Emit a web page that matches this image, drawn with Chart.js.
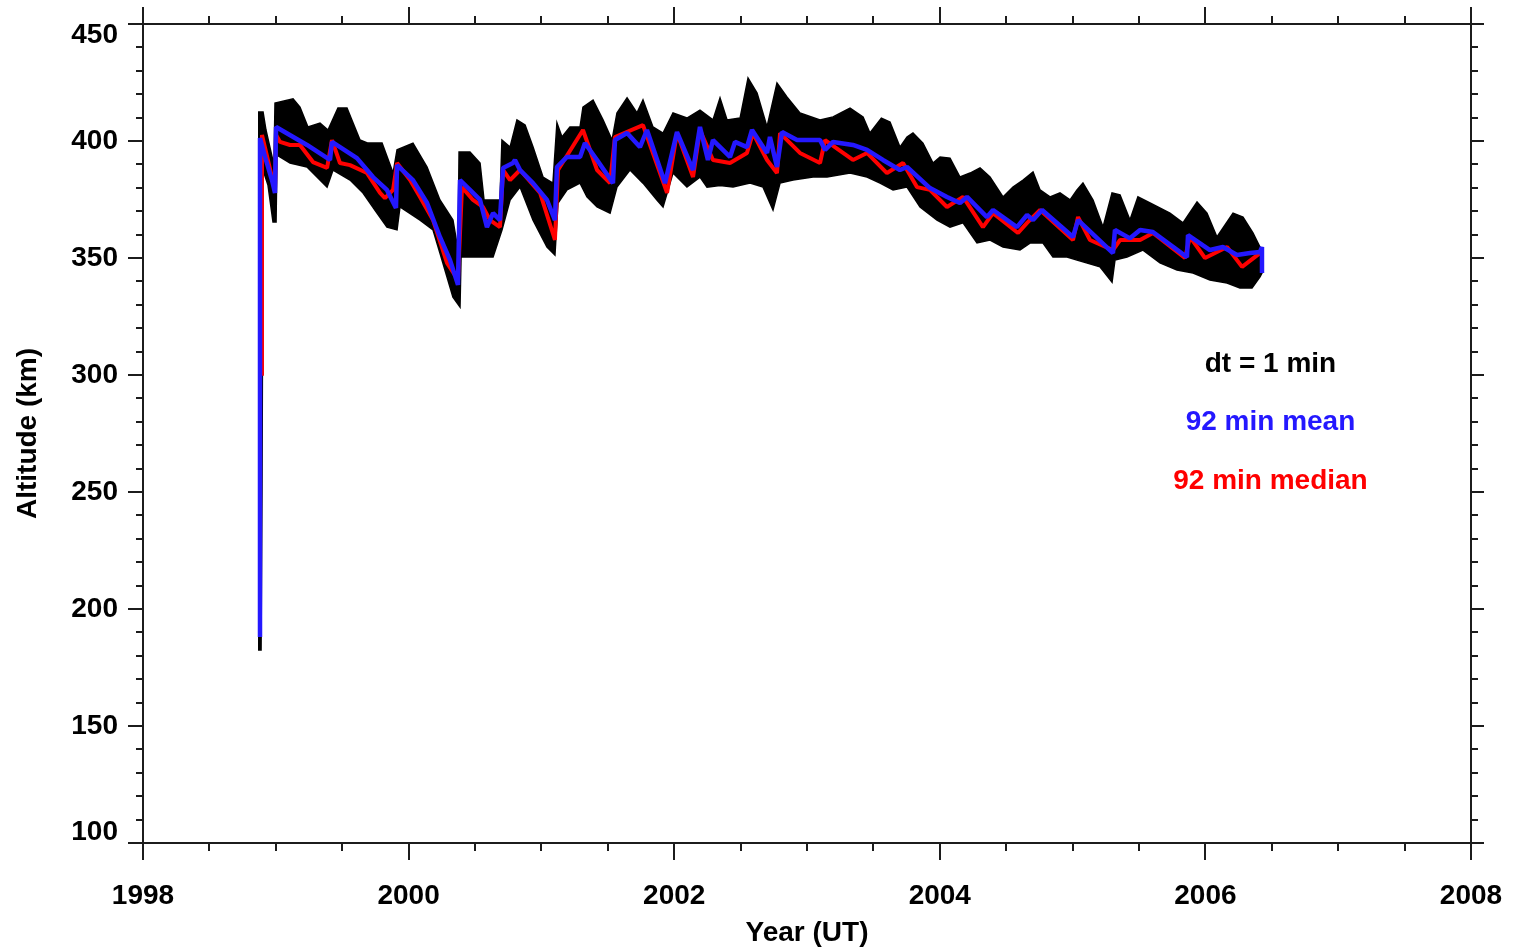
<!DOCTYPE html>
<html>
<head>
<meta charset="utf-8">
<title>ISS altitude</title>
<script src="https://cdn.jsdelivr.net/npm/chart.js@4.4.1/dist/chart.umd.min.js"></script>
<style>
  html, body { margin: 0; padding: 0; background: #fff; }
  canvas { display: block; }
</style>
</head>
<body>
<canvas id="altChart" width="1513" height="951"></canvas>
<script>
// --- Data ---
// 92 min mean
const meanT = [1998.881,1998.881,1998.919,1998.971,1998.994,1999.002,1999.235,1999.408,1999.423,1999.611,1999.732,1999.837,1999.905,1999.913,2000.033,2000.139,2000.236,2000.312,2000.372,2000.387,2000.462,2000.538,2000.590,2000.636,2000.688,2000.711,2000.786,2000.801,2000.839,2000.937,2001.042,2001.102,2001.117,2001.193,2001.291,2001.328,2001.419,2001.539,2001.554,2001.645,2001.742,2001.795,2001.931,2002.021,2002.142,2002.194,2002.254,2002.292,2002.420,2002.458,2002.548,2002.586,2002.699,2002.721,2002.774,2002.812,2002.925,2003.098,2003.136,2003.196,2003.346,2003.452,2003.572,2003.700,2003.753,2003.926,2004.054,2004.152,2004.205,2004.355,2004.401,2004.581,2004.657,2004.702,2004.770,2005.003,2005.041,2005.304,2005.319,2005.432,2005.508,2005.605,2005.861,2005.869,2006.034,2006.132,2006.238,2006.336,2006.411,2006.426,2006.426];
const meanKm = [188.0,401.3,393.2,383.3,377.8,406.0,398.3,391.9,399.6,392.7,384.6,379.1,371.4,389.7,383.3,373.5,359.0,349.1,338.5,383.3,379.1,374.8,363.2,369.2,366.2,388.5,390.6,391.9,387.6,382.0,374.8,366.2,388.9,393.2,393.2,399.1,391.9,382.0,400.4,403.4,397.4,404.7,382.0,403.8,387.6,406.0,391.9,400.4,393.2,399.6,397.4,404.7,394.9,401.7,388.9,403.8,400.4,400.4,396.2,399.6,398.3,396.2,391.9,387.6,388.9,379.9,376.1,373.5,376.1,367.5,370.5,363.2,368.4,366.2,370.5,359.0,366.2,352.1,362.0,358.4,362.0,361.1,350.4,359.8,353.4,354.7,351.3,352.1,352.6,354.7,343.6];

// 92 min median
const medianT = [1998.896,1998.896,1998.994,1999.002,1999.032,1999.107,1999.182,1999.280,1999.386,1999.423,1999.483,1999.559,1999.687,1999.785,1999.822,1999.883,1999.913,2000.011,2000.086,2000.184,2000.289,2000.372,2000.402,2000.485,2000.560,2000.613,2000.688,2000.711,2000.764,2000.839,2000.990,2001.102,2001.125,2001.313,2001.419,2001.517,2001.554,2001.765,2001.946,2002.021,2002.142,2002.194,2002.292,2002.420,2002.548,2002.593,2002.699,2002.774,2002.797,2002.947,2003.098,2003.136,2003.346,2003.452,2003.602,2003.723,2003.828,2003.926,2004.054,2004.175,2004.325,2004.401,2004.589,2004.657,2004.755,2005.003,2005.041,2005.131,2005.304,2005.357,2005.508,2005.605,2005.846,2005.884,2005.997,2006.163,2006.276,2006.411];
const medianKm = [299.7,402.6,379.1,402.6,399.6,398.3,398.3,391.0,388.5,400.4,390.6,389.7,386.3,377.8,375.6,379.1,390.6,383.3,376.1,366.2,347.9,340.6,380.3,374.8,371.8,366.2,363.2,387.6,383.3,387.6,377.8,357.7,387.6,404.7,387.6,382.0,401.7,406.8,377.8,403.4,384.6,404.7,391.9,390.6,394.9,403.4,391.9,386.3,403.4,394.9,390.6,400.4,391.9,394.9,386.3,390.6,380.3,379.1,371.8,376.1,363.2,369.2,360.7,365.0,370.5,357.7,367.5,357.7,353.4,357.7,357.7,360.7,350.0,359.0,350.0,354.7,346.2,352.1];

// dt = 1 min samples: upper edge of the band
const topT = [1998.866,1998.904,1998.926,1998.986,1998.994,1999.130,1999.182,1999.242,1999.333,1999.393,1999.468,1999.536,1999.634,1999.694,1999.800,1999.883,1999.913,2000.033,2000.139,2000.236,2000.334,2000.372,2000.380,2000.462,
    2000.538,2000.568,2000.688,2000.703,
    2000.764,2000.816,2000.877,2000.937,2001.012,2001.087,2001.117,2001.155,2001.215,2001.291,2001.313,2001.389,2001.464,2001.532,2001.569,2001.645,2001.720,2001.765,2001.840,2001.916,2001.991,2002.096,2002.194,2002.292,2002.345,2002.398,2002.496,2002.556,2002.624,2002.699,2002.774,2002.849,2002.947,2003.098,2003.196,2003.324,2003.422,2003.474,
    2003.560,2003.625,2003.700,2003.753,2003.798,2003.873,2003.949,2004.002,2004.077,2004.152,2004.228,2004.303,2004.378,2004.476,2004.551,2004.627,2004.702,2004.755,2004.830,2004.905,2004.981,2005.033,2005.078,2005.154,2005.229,2005.297,2005.357,2005.432,2005.492,2005.583,2005.733,2005.831,2005.937,2006.012,2006.087,2006.208,2006.283,2006.358,2006.411,2006.426];
const topKm = [412.4,412.4,404.7,389.7,416.2,418.0,414.5,406.0,407.7,404.7,414.1,414.1,400.4,399.1,399.1,386.3,396.2,399.1,388.9,374.8,366.2,353.4,395.3,395.3,
    390.6,374.8,374.8,400.4,
    397.4,409.0,406.8,397.4,384.6,382.0,407.7,401.7,406.0,406.0,414.5,417.5,409.0,400.4,412.0,418.4,412.0,417.5,406.0,403.4,412.0,409.8,413.2,409.0,418.4,409.0,409.8,426.9,420.5,406.0,424.8,418.8,412.0,409.0,410.3,414.1,410.3,403.4,
    409.8,408.1,397.4,401.7,403.4,399.1,390.6,393.2,392.7,384.6,386.3,388.5,384.6,376.1,380.3,383.3,386.8,379.1,376.1,377.8,374.8,379.1,382.0,374.8,363.2,377.8,377.0,366.2,376.1,373.5,369.2,365.0,373.9,369.2,359.0,369.2,367.5,360.7,354.7,353.4];

// dt = 1 min samples: lower edge of the band
const botT = [1998.866,1998.889,1998.896,1998.904,1998.941,1998.979,1999.002,1999.009,1999.107,1999.235,1999.386,1999.431,1999.559,1999.657,1999.762,1999.837,1999.913,1999.935,2000.086,2000.184,2000.236,2000.334,
    2000.387,2000.395,2000.560,2000.636,2000.703,2000.764,2000.839,
    2000.937,2001.042,2001.102,2001.125,2001.193,2001.291,2001.343,2001.419,2001.517,2001.569,2001.667,2001.765,2001.870,2001.916,2001.991,2002.096,2002.194,2002.247,2002.345,2002.443,2002.571,2002.669,2002.744,2002.797,2002.895,2003.045,2003.151,2003.324,2003.452,
    2003.550,2003.648,2003.753,2003.851,2003.979,2004.077,2004.175,2004.280,2004.378,2004.476,2004.604,2004.679,2004.777,2004.852,2004.958,2005.033,2005.206,2005.297,2005.319,2005.410,2005.530,2005.658,2005.786,2005.907,2006.034,2006.163,2006.260,2006.351,2006.411,2006.426];
const botKm = [182.5,182.5,250.0,387.6,381.2,365.4,365.4,394.0,390.6,388.9,380.3,387.6,383.3,377.8,369.2,363.2,362.0,371.8,366.2,362.0,352.1,333.3,
    329.1,350.4,350.4,350.4,362.0,374.8,380.3,
    366.2,354.7,351.3,373.5,379.1,382.0,376.1,371.8,369.2,380.3,387.6,382.0,374.8,371.8,386.3,380.3,384.6,380.3,381.0,380.3,382.0,380.3,370.5,382.0,383.3,384.6,384.6,386.3,384.6,
    382.0,379.1,380.3,371.8,366.2,363.2,365.0,356.4,357.7,354.7,353.4,356.4,356.4,350.4,350.4,349.1,346.2,339.7,349.1,350.4,353.4,347.9,344.9,343.6,340.6,339.3,337.2,337.2,341.9,343.6];

// text block on the right
const noteLines = ["dt = 1 min", "92 min mean", "92 min median"];
const noteColors = ["#000000", "#2418ff", "#ff0000"];

// --- Helpers ---
const FONT = '"Liberation Sans", Arial, Helvetica, sans-serif';
const BLUE = "rgb(36,24,255)";
const RED = "#ff0000";

function toPoints(ts, vs) {
    return ts.map((t, i) => ({ x: t, y: vs[i] }));
}

// closed outline of the band: upper edge left->right, lower edge back
const bandShape = toPoints(topT, topKm).concat(toPoints(botT, botKm).reverse());

// --- Axis box with IDL style ticks ---
const axisFrame = {
    id: "axisFrame",
    afterDraw(chart) {
        const { ctx, chartArea: a, scales } = chart;
        const xs = scales.x;
        const ys = scales.y;
        ctx.save();
        ctx.strokeStyle = "#1c1c1c";
        ctx.lineWidth = 2;
        ctx.strokeRect(a.left, a.top, a.right - a.left, a.bottom - a.top);

        ctx.beginPath();
        // x ticks: major every 2 years, minor every half year
        for (let k = 0; k <= 20; k++) {
            const v = 1998 + k * 0.5;
            const px = Math.round(xs.getPixelForValue(v));
            const len = k % 4 === 0 ? 17 : 8;
            ctx.moveTo(px, a.bottom);
            ctx.lineTo(px, a.bottom + len);
            ctx.moveTo(px, a.top);
            ctx.lineTo(px, a.top - len);
        }
        // y ticks: major every 50 km, minor every 10 km
        for (let v = 100; v <= 450; v += 10) {
            const py = Math.round(ys.getPixelForValue(v));
            const major = v % 50 === 0;
            ctx.moveTo(a.left, py);
            ctx.lineTo(a.left - (major ? 15 : 7), py);
            ctx.moveTo(a.right, py);
            ctx.lineTo(a.right + (major ? 13 : 7), py);
        }
        ctx.stroke();

        // labels for the three curves
        ctx.font = "bold 28px " + FONT;
        ctx.textAlign = "center";
        ctx.textBaseline = "middle";
        const cx = xs.getPixelForValue(2006.49);
        const rows = [304.7, 279.9, 254.7];
        noteLines.forEach((txt, i) => {
            ctx.fillStyle = noteColors[i];
            ctx.fillText(txt, cx, ys.getPixelForValue(rows[i]));
        });
        ctx.restore();
    },
};

// --- Chart ---
const ctx = document.getElementById("altChart").getContext("2d");

new Chart(ctx, {
    type: "line",
    data: {
        datasets: [
            {
                label: "92 min mean",
                data: toPoints(meanT, meanKm),
                borderColor: BLUE,
                borderWidth: 4.5,
                borderJoinStyle: "bevel",
                pointRadius: 0,
                fill: false,
                tension: 0,
                order: 1,
            },
            {
                label: "92 min median",
                data: toPoints(medianT, medianKm),
                borderColor: RED,
                borderWidth: 4,
                borderJoinStyle: "bevel",
                pointRadius: 0,
                fill: false,
                tension: 0,
                order: 2,
            },
            {
                label: "dt = 1 min",
                data: bandShape,
                borderColor: "#000",
                backgroundColor: "#000",
                borderWidth: 1.5,
                pointRadius: 0,
                fill: "shape",
                tension: 0,
                order: 3,
            },
        ],
    },
    options: {
        responsive: false,
        animation: false,
        layout: { padding: { top: 24, right: 42, bottom: 0, left: 0 } },
        plugins: {
            legend: { display: false },
            tooltip: { enabled: false },
        },
        scales: {
            x: {
                type: "linear",
                position: "bottom",
                min: 1998,
                max: 2008,
                border: { display: false },
                grid: { display: false, drawTicks: false },
                ticks: {
                    stepSize: 2,
                    padding: 36,
                    autoSkip: false,
                    maxRotation: 0,
                    color: "#000",
                    font: { family: FONT, size: 28, weight: "bold" },
                    callback: (v) => String(v),
                },
                title: {
                    display: true,
                    text: "Year (UT)",
                    color: "#000",
                    font: { family: FONT, size: 28, weight: "bold" },
                    padding: { top: 0, bottom: 1 },
                },
                afterFit(scale) {
                    scale.height = 108;
                    scale.paddingLeft = 0;
                    scale.paddingRight = 0;
                },
            },
            y: {
                type: "linear",
                min: 100,
                max: 450,
                border: { display: false },
                grid: { display: false, drawTicks: false },
                ticks: {
                    stepSize: 50,
                    padding: 25,
                    autoSkip: false,
                    color: "#000",
                    font: { family: FONT, size: 28, weight: "bold", lineHeight: "22px" },
                    // end labels sit a little inside the box, as in the original
                    callback: (v) => {
                        if (v === 450) return ["", "450"];
                        if (v === 100) return ["100", ""];
                        return String(v);
                    },
                },
                title: {
                    display: true,
                    text: "Altitude (km)",
                    color: "#000",
                    font: { family: FONT, size: 28, weight: "bold" },
                    padding: { top: 11, bottom: 0 },
                },
                afterFit(scale) {
                    scale.width = 143;
                    scale.paddingTop = 0;
                    scale.paddingBottom = 0;
                },
            },
        },
    },
    plugins: [axisFrame],
});
</script>
</body>
</html>
